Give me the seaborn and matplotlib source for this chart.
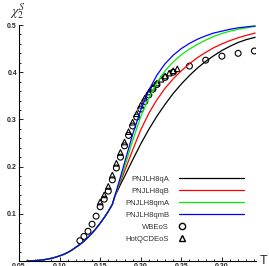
import seaborn as sns
import matplotlib.pyplot as plt
import pandas as pd
from matplotlib.lines import Line2D
from matplotlib.legend_handler import HandlerLine2D
from matplotlib.ticker import MultipleLocator

# shared low-T part of all four model curves (they coincide below the kink)
t_low = [0.06, 0.065, 0.07, 0.075, 0.08, 0.085, 0.09, 0.095, 0.10, 0.105, 0.11, 0.115,
         0.12, 0.125, 0.13, 0.135, 0.14, 0.145, 0.15, 0.155, 0.16, 0.165, 0.168]
chi_low = [0.0, 0.0003, 0.0008, 0.0015, 0.0025, 0.004, 0.0058, 0.008, 0.0108, 0.014, 0.018, 0.023,
           0.029, 0.035, 0.042, 0.050, 0.059, 0.069, 0.080, 0.092, 0.105, 0.12, 0.137]

# above the kink, same temperature grid for every model
t_high = [0.175, 0.18, 0.19, 0.20, 0.21, 0.22, 0.23, 0.24, 0.25, 0.26,
          0.27, 0.28, 0.29, 0.30, 0.31, 0.32, 0.33, 0.341]
chi_qA = [0.162, 0.179, 0.214, 0.248, 0.279, 0.307, 0.332, 0.355, 0.375, 0.393,
          0.409, 0.423, 0.435, 0.446, 0.455, 0.463, 0.469, 0.474]
chi_qB = [0.168, 0.19, 0.235, 0.278, 0.313, 0.342, 0.366, 0.386, 0.403, 0.418,
          0.431, 0.442, 0.452, 0.460, 0.467, 0.473, 0.478, 0.483]
chi_qmA = [0.172, 0.198, 0.255, 0.306, 0.346, 0.378, 0.403, 0.422, 0.437, 0.449,
           0.459, 0.468, 0.476, 0.482, 0.487, 0.491, 0.494, 0.497]
chi_qmB = [0.178, 0.208, 0.268, 0.32, 0.362, 0.394, 0.418, 0.436, 0.45, 0.461,
           0.47, 0.477, 0.483, 0.487, 0.491, 0.494, 0.496, 0.498]

# lattice data
t_wb = [0.125, 0.13, 0.135, 0.14, 0.145, 0.15, 0.155, 0.16, 0.165, 0.17, 0.175, 0.18, 0.185,
        0.19, 0.195, 0.20, 0.205, 0.21, 0.215, 0.22, 0.23, 0.24, 0.26, 0.28, 0.30, 0.32, 0.34]
chi_wb = [0.043, 0.052, 0.063, 0.078, 0.095, 0.115, 0.131, 0.148, 0.172, 0.197, 0.220, 0.244, 0.266,
          0.286, 0.305, 0.322, 0.338, 0.352, 0.364, 0.374, 0.389, 0.400, 0.413, 0.4255, 0.434, 0.440, 0.445]

t_hot = [0.15, 0.155, 0.16, 0.165, 0.17, 0.175, 0.18, 0.185, 0.19, 0.195, 0.20,
         0.205, 0.21, 0.215, 0.22, 0.225, 0.23, 0.235, 0.24, 0.245]
chi_hot = [0.125, 0.140, 0.158, 0.182, 0.207, 0.230, 0.252, 0.274, 0.294, 0.312, 0.330,
           0.345, 0.358, 0.368, 0.377, 0.385, 0.392, 0.398, 0.403, 0.407]

models = [("PNJLH8qA", chi_qA, "black"),
          ("PNJLH8qB", chi_qB, "#ff0000"),
          ("PNJLH8qmA", chi_qmA, "#00ee00"),
          ("PNJLH8qmB", chi_qmB, "#0000ff")]


class MarkerLeft(HandlerLine2D):
    # put the marker at the start of the handle (line style is none anyway)
    def get_xdata(self, legend, xdescent, ydescent, width, height, fontsize):
        x0 = -xdescent
        m = 0.35 * fontsize
        return [x0, x0 + 2 * m], [x0 + m]


sns.set_style("white")
plt.rcParams['font.family'] = ['Liberation Sans', 'DejaVu Sans']
plt.rcParams['mathtext.fontset'] = 'stix'

fig = plt.figure(figsize=(2.69, 2.66), dpi=100)
ax = fig.add_axes([19 / 269, 5 / 266, 237 / 269, 236 / 266])

for name, chi, c in models:
    df = pd.DataFrame({"T": t_low + t_high, "chi": chi_low + chi})
    sns.lineplot(data=df, x="T", y="chi", color=c, lw=0.9, sort=False, ax=ax)

wb = pd.DataFrame({"T": t_wb, "chi": chi_wb})
hot = pd.DataFrame({"T": t_hot, "chi": chi_hot})
sns.scatterplot(data=wb, x="T", y="chi", marker="o", s=18, facecolor="none",
                edgecolor="black", linewidth=0.8, ax=ax)
sns.scatterplot(data=hot, x="T", y="chi", marker="^", s=16, facecolor="none",
                edgecolor="black", linewidth=0.8, ax=ax)

ax.set_xlim(0.05, 0.342)
ax.set_ylim(0, 0.5)
for s in ["top", "right"]:
    ax.spines[s].set_visible(False)
for s in ["left", "bottom"]:
    ax.spines[s].set_linewidth(0.8)
    ax.spines[s].set_color("black")

ax.xaxis.set_major_locator(MultipleLocator(0.05))
ax.xaxis.set_minor_locator(MultipleLocator(0.01))
ax.yaxis.set_major_locator(MultipleLocator(0.1))
ax.yaxis.set_minor_locator(MultipleLocator(0.02))
ax.tick_params(which="both", direction="in", width=0.6, color="black",
               left=True, bottom=True, labelsize=5, pad=1.5)
ax.tick_params(which="major", length=3)
ax.tick_params(which="minor", length=1.6)
ax.set_xticks([0.05, 0.10, 0.15, 0.20, 0.25, 0.30])
ax.set_xticklabels(["0.05", "0.10", "0.15", "0.20", "0.25", "0.30"], fontweight="bold")
ax.set_yticks([0.1, 0.2, 0.3, 0.4, 0.5])
ax.set_yticklabels(["0.1", "0.2", "0.3", "0.4", "0.5"], fontweight="bold")

ax.set_xlabel("T", fontsize=9)
ax.xaxis.set_label_coords(1.03, 0.0, transform=ax.transAxes)
ax.xaxis.label.set_va("center")
ax.set_ylabel(r"$\chi_2^S$", fontsize=10, rotation=0)
ax.yaxis.set_label_coords(-0.04, 1.012, transform=ax.transAxes)
ax.yaxis.label.set_va("bottom")
ax.yaxis.label.set_ha("left")

handles = [Line2D([], [], color=c, lw=0.9) for _, _, c in models]
handles += [Line2D([], [], ls="none", marker="o", mfc="none", mec="black", ms=4.5, mew=1.0),
            Line2D([], [], ls="none", marker="^", mfc="none", mec="black", ms=4.5, mew=1.0)]
labels = [m[0] for m in models] + ["WBEoS", "HotQCDEoS"]
hm = {h: MarkerLeft() for h in handles[4:]}
leg = ax.legend(handles, labels, loc="lower right", bbox_to_anchor=(0.965, 0.06),
                markerfirst=False, frameon=False, fontsize=5.5, handlelength=8.5,
                handletextpad=1.3, labelspacing=0.62, borderpad=0, handler_map=hm)
for t in leg.get_texts():
    t.set_color("#333333")

fig.savefig("out.png", dpi=100)
